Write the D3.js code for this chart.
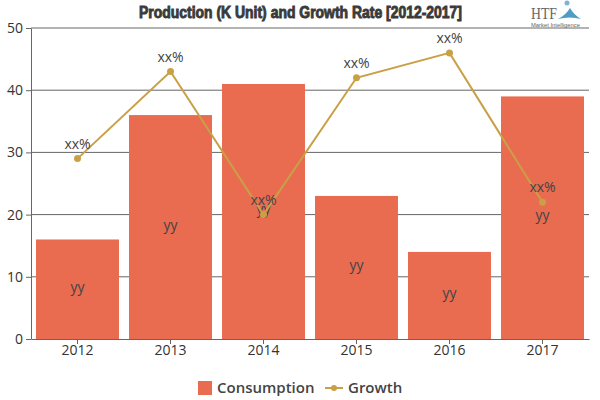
<!DOCTYPE html>
<html>
<head>
<meta charset="utf-8">
<script src="https://cdnjs.cloudflare.com/ajax/libs/d3/7.8.5/d3.min.js"></script>
<style>
    html, body { margin: 0; padding: 0; background: #fff; }
    svg { display: block; }
    text { font-family: 'Open Sans', 'DejaVu Sans', sans-serif; }
</style>
</head>
<body>
<svg id="chart"></svg>
<script>
const years = ['2012', '2013', '2014', '2015', '2016', '2017'];
const consumption = [16, 36, 41, 23, 14, 39];
const growth = [29, 43, 20, 42, 46, 22];
const yTicks = [0, 10, 20, 30, 40, 50];
const barLabel = 'yy';
const pointLabel = 'xx%';

const barColor = '#e96b50';
const lineColor = '#c9a046';
const axisColor = '#666';
const textColor = '#444';

const svg = d3.select('#chart').attr('width', 600).attr('height', 400);

const xScale = d3.scaleBand().domain(years).range([31, 589]).paddingInner(0.108).paddingOuter(0.054);
const yScale = d3.scaleLinear().domain([0, 50]).range([339, 28]);
const xMid = (d) => xScale(d) + xScale.bandwidth() / 2;

// Title, squeezed to fit since there is no Impact here
svg.append('text')
    .attr('x', 139).attr('y', 18)
    .attr('textLength', 323)
    .attr('lengthAdjust', 'spacingAndGlyphs')
    .style('font-family', "'Liberation Sans', sans-serif")
    .style('font-size', '16px')
    .style('font-weight', 'bold')
    .style('fill', '#3a3a3a')
    .style('stroke', '#3a3a3a')
    .style('stroke-width', 0.9)
    .text('Production (K Unit) and Growth Rate [2012-2017]');

// Grid lines
svg.append('g')
    .selectAll('line')
    .data(yTicks.slice(1))
    .enter()
    .append('line')
    .attr('x1', 31).attr('x2', 589)
    .attr('y1', (d) => yScale(d)).attr('y2', (d) => yScale(d))
    .style('stroke', axisColor)
    .style('stroke-width', 1);

// Bars
svg.append('g')
    .selectAll('rect')
    .data(consumption)
    .enter()
    .append('rect')
    .attr('x', (d, i) => xScale(years[i]))
    .attr('y', (d) => yScale(d))
    .attr('width', xScale.bandwidth())
    .attr('height', (d) => yScale(0) - yScale(d))
    .style('fill', barColor);

// Axes
const yAxis = svg.append('g')
    .attr('transform', 'translate(31,0)')
    .call(d3.axisLeft(yScale).tickValues(yTicks).tickSize(5).tickSizeOuter(0));
yAxis.selectAll('text').style('font-size', '14px').style('fill', '#333');
yAxis.selectAll('line, path').style('stroke', axisColor);

const xAxis = svg.append('g')
    .attr('transform', 'translate(0,339)')
    .call(d3.axisBottom(xScale).tickSize(5).tickSizeOuter(0));
xAxis.selectAll('text').style('font-size', '14px').style('fill', '#333').attr('y', 6);
xAxis.selectAll('line, path').style('stroke', axisColor);

// Bar labels
svg.append('g')
    .selectAll('text')
    .data(consumption)
    .enter()
    .append('text')
    .attr('x', (d, i) => xMid(years[i]))
    .attr('y', (d) => (yScale(d) + yScale(0)) / 2 + 2.5)
    .attr('text-anchor', 'middle')
    .style('font-size', '14px')
    .style('fill', textColor)
    .text(barLabel);

// Growth line
const line = d3.line()
    .x((d, i) => xMid(years[i]))
    .y((d) => yScale(d));

svg.append('path')
    .datum(growth)
    .attr('d', line)
    .style('fill', 'none')
    .style('stroke', lineColor)
    .style('stroke-width', 2);

svg.append('g')
    .selectAll('circle')
    .data(growth)
    .enter()
    .append('circle')
    .attr('cx', (d, i) => xMid(years[i]))
    .attr('cy', (d) => yScale(d))
    .attr('r', 3.5)
    .style('fill', lineColor);

svg.append('g')
    .selectAll('text')
    .data(growth)
    .enter()
    .append('text')
    .attr('x', (d, i) => xMid(years[i]))
    .attr('y', (d) => yScale(d) - 10)
    .attr('text-anchor', 'middle')
    .style('font-size', '14px')
    .style('fill', textColor)
    .text(pointLabel);

// Legend
const legend = svg.append('g');
legend.append('rect')
    .attr('x', 198).attr('y', 381).attr('width', 14).attr('height', 14)
    .style('fill', barColor);
legend.append('text')
    .attr('x', 217).attr('y', 393)
    .style('font-size', '15px').style('font-weight', 600).style('fill', textColor)
    .text('Consumption');
legend.append('line')
    .attr('x1', 325).attr('x2', 343).attr('y1', 388).attr('y2', 388)
    .style('stroke', lineColor).style('stroke-width', 2);
legend.append('circle')
    .attr('cx', 334).attr('cy', 388).attr('r', 3)
    .style('fill', lineColor);
legend.append('text')
    .attr('x', 348).attr('y', 393)
    .style('font-size', '15px').style('font-weight', 600).style('fill', textColor)
    .text('Growth');

// Logo
const logo = svg.append('g');
logo.append('text')
    .attr('x', 531).attr('y', 19)
    .attr('textLength', 26)
    .attr('lengthAdjust', 'spacingAndGlyphs')
    .style('font-family', "'Liberation Serif', serif")
    .style('font-size', '17px')
    .style('fill', '#666')
    .text('HTF');
logo.append('text')
    .attr('x', 531).attr('y', 27)
    .attr('textLength', 49)
    .attr('lengthAdjust', 'spacingAndGlyphs')
    .style('font-family', "'Liberation Sans', sans-serif")
    .style('font-size', '6px')
    .style('fill', '#666')
    .text('Market Intelligence');
logo.append('path')
    .attr('d', 'M558 19 Q566 15 570 8 Q574 15 581 19 Q570 16 558 19 Z')
    .style('fill', '#4f9cc4');
logo.append('circle')
    .attr('cx', 567).attr('cy', 3).attr('r', 2.5)
    .style('fill', '#7fb4cf');
</script>
</body>
</html>
